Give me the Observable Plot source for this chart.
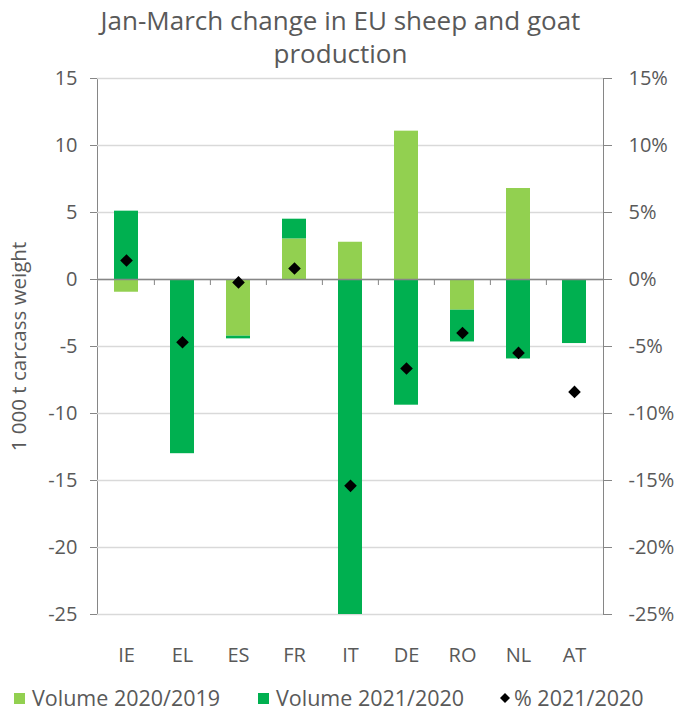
<!DOCTYPE html>
<html><head><meta charset="utf-8">
<script src="https://cdn.jsdelivr.net/npm/d3@7"></script>
<script src="https://cdn.jsdelivr.net/npm/@observablehq/plot@0.6"></script>
<style>
body{margin:0;background:#fff;font-family:"Open Sans",sans-serif;color:#595959;}
#wrap{position:relative;width:681px;height:713px;}
#title{position:absolute;left:0;top:4px;width:681px;text-align:center;font-size:26px;line-height:33px;}
#chart{position:absolute;left:0;top:68px;}
.leg{position:absolute;top:688px;font-size:21.5px;line-height:20px;white-space:nowrap;}
.sw{position:absolute;top:693px;width:11px;height:11px;}
</style></head><body>
<div id="wrap">
<div id="title">Jan-March change in EU sheep and goat<br>production</div>
<div id="chart"></div>
<div id="legend"></div>
</div>
<script>
const countries = ["IE","EL","ES","FR","IT","DE","RO","NL","AT"];
const vol2020 = [-0.95, 0, -4.23, 3.03, 2.78, 11.07, -2.29, 6.79, 0];
const vol2021 = [5.1, -13.0, -0.2, 1.47, -25, -9.38, -2.37, -5.93, -4.78];
const pct2021 = [1.42, -4.68, -0.22, 0.82, -15.4, -6.64, -3.99, -5.48, -8.39];
const seriesNames = ["Volume 2020/2019", "Volume 2021/2020"];
const pctName = "% 2021/2020";
const seriesColors = ["#92D050", "#00B050"];
const yTicks = [-25, -20, -15, -10, -5, 0, 5, 10, 15];
const yLabel = "1 000 t carcass weight";
const title = "Jan-March change in EU sheep and goat production";

const rows = [];
countries.forEach((c, i) => {
  rows.push({country: c, series: seriesNames[0], value: vol2020[i]});
  rows.push({country: c, series: seriesNames[1], value: vol2021[i]});
});
const pctRows = countries.map((c, i) => ({country: c, pct: pct2021[i]}));

const W = 681, H = 606, mL = 97, mR = 78, mT = 10, mB = 60;
const step = (W - mL - mR) / countries.length;

const plot = Plot.plot({
  width: W, height: H,
  marginTop: mT, marginBottom: mB, marginLeft: mL, marginRight: mR,
  style: {fontFamily: '"Open Sans", sans-serif', fontSize: "20px", color: "#595959", background: "#fff", overflow: "visible"},
  x: {type: "band", domain: countries, paddingInner: 0.58, paddingOuter: 0.29, label: null},
  y: {domain: [-25, 15], label: null},
  color: {domain: seriesNames, range: seriesColors},
  marks: [
    Plot.frame({stroke: "#868686"}),
    Plot.ruleY(yTicks, {stroke: "#d9d9d9", strokeWidth: 1.5}),
    Plot.barY(rows, {x: "country", y: "value", fill: "series"}),
    Plot.ruleY([0], {stroke: "#868686", strokeWidth: 1.5}),
    Plot.ruleX(countries.slice(1), {x: d => d, y1: 0, y2: -0.45, dx: -step / 2, stroke: "#868686"}),
    Plot.dot(pctRows, {x: "country", y: "pct", symbol: "diamond2", r: 5.7, fill: "#000", stroke: "none"}),
    Plot.axisY({anchor: "left", ticks: yTicks, tickSize: 7, tickPadding: 13, tickFormat: d => String(d), stroke: "#868686", fill: "#595959", fontSize: 20, label: null}),
    Plot.axisY({anchor: "right", ticks: yTicks, tickSize: 8, tickPadding: 17, tickFormat: d => String(d) + "%", stroke: "#868686", fill: "#595959", fontSize: 20, label: null}),
    Plot.axisX({anchor: "bottom", tickSize: 0, tickPadding: 33, fontSize: 20, fill: "#595959", label: null}),
    Plot.text([yLabel], {text: d => d, frameAnchor: "left", textAnchor: "middle", rotate: -90, dx: -78, fontSize: 20.5, fill: "#595959"})
  ]
});
document.getElementById("chart").appendChild(plot);

// legend
const leg = document.getElementById("legend");
const items = [
  {kind: "sq", color: seriesColors[0], label: seriesNames[0], sx: 14, tx: 32},
  {kind: "sq", color: seriesColors[1], label: seriesNames[1], sx: 258, tx: 276},
  {kind: "dia", color: "#000", label: pctName, sx: 500, tx: 514}
];
items.forEach(it => {
  if (it.kind === "sq") {
    const s = document.createElement("div");
    s.className = "sw"; s.style.left = it.sx + "px"; s.style.background = it.color;
    leg.appendChild(s);
  } else {
    const s = document.createElementNS("http://www.w3.org/2000/svg", "svg");
    s.setAttribute("width", 12); s.setAttribute("height", 12);
    s.style.position = "absolute"; s.style.left = (it.sx - 1) + "px"; s.style.top = "692px";
    s.innerHTML = '<path d="M6,1L11,6L6,11L1,6Z" fill="#000"/>';
    leg.appendChild(s);
  }
  const t = document.createElement("div");
  t.className = "leg"; t.style.left = it.tx + "px"; t.textContent = it.label;
  leg.appendChild(t);
});
</script>
</body></html>
